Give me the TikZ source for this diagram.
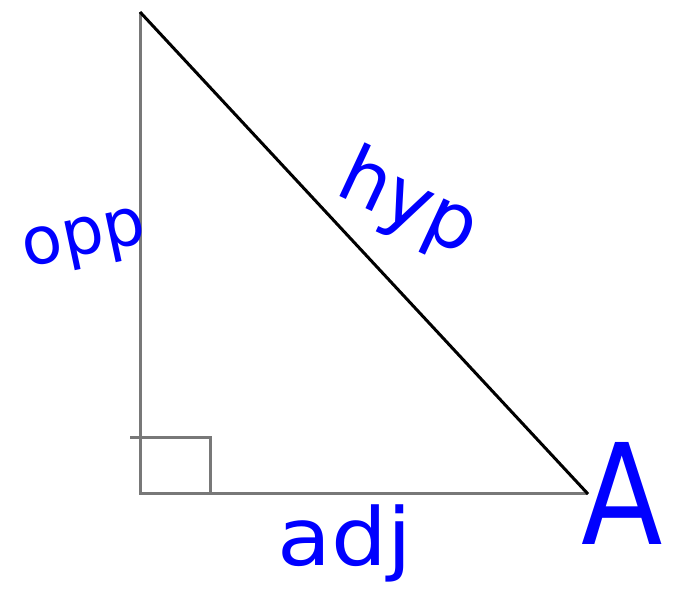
\documentclass[tikz,border=0pt]{standalone}
\usepackage{fontspec}
\setmainfont{DejaVu Sans}
\definecolor{ink}{RGB}{0,0,255}
\definecolor{leg}{RGB}{120,120,120}
\begin{document}
\begin{tikzpicture}[x=1pt,y=1pt,
  lbl/.style={text=ink,inner sep=0pt}]
\useasboundingbox (0,0) rectangle (677,605);
\coordinate (T) at (140,593);
\coordinate (B) at (140,111);
\coordinate (R) at (588,111);
\coordinate (m1) at (130,167);
\coordinate (m2) at (210,167);
\coordinate (m3) at (210,111);
\draw[leg,line width=3pt] (T) -- (B) -- (R);
\draw[black,line width=3pt] (T) -- (R);
\draw[leg,line width=3pt] (m1) -- (m2) -- (m3);
\node[lbl,font=\fontsize{66}{66}\selectfont,rotate=12] (opp) at (85,362) {opp};
\node[lbl,font=\fontsize{78}{78}\selectfont,rotate=-25] (hyp) at (408,400) {hyp};
\node[lbl,font=\fontsize{80}{80}\selectfont,xscale=1.1] (adj) at (345,62) {adj};
\node[lbl,font=\fontsize{140}{140}\selectfont,xscale=0.85] (A) at (622,112) {A};
\end{tikzpicture}
\end{document}
